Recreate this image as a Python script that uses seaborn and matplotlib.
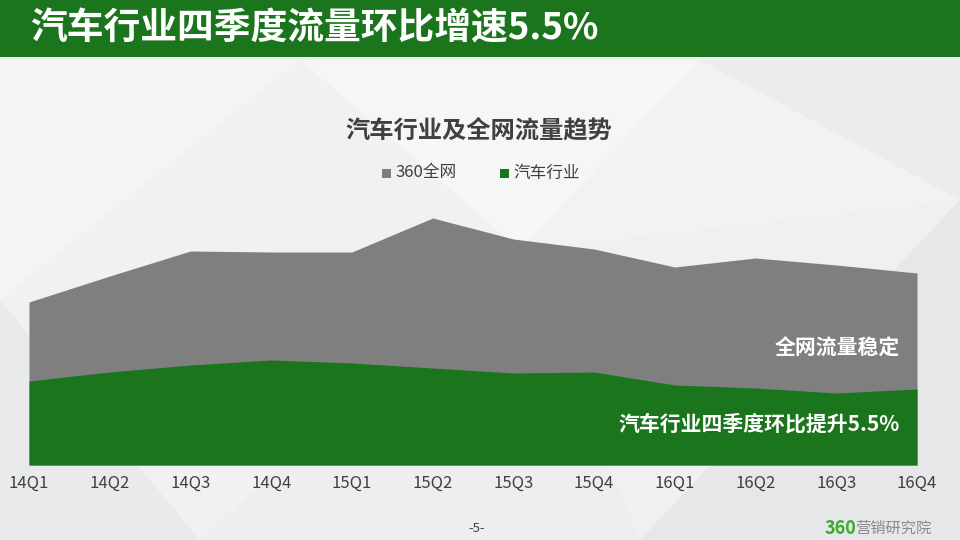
import matplotlib
matplotlib.use("Agg")
import matplotlib.pyplot as plt
from matplotlib.patches import Polygon, Rectangle
import seaborn as sns
import pandas as pd

# ---- data ----
quarters = ["14Q1", "14Q2", "14Q3", "14Q4", "15Q1", "15Q2",
            "15Q3", "15Q4", "16Q1", "16Q2", "16Q3", "16Q4"]
total_traffic = [163, 189, 214, 213, 213, 247, 226, 216, 198, 207, 200, 192]
auto_traffic = [84, 93, 100, 105, 102, 97, 92, 93, 80, 77, 72, 76]
series_names = ["360全网", "汽车行业"]

page_title = "汽车行业四季度流量环比增速5.5%"
chart_title = "汽车行业及全网流量趋势"
note_total = "全网流量稳定"
note_auto = "汽车行业四季度环比提升5.5%"

GREEN = "#1B751D"
GRAY = "#7F7F7F"

sns.set_theme(style="white")
plt.rcParams["font.family"] = ["Noto Sans CJK SC", "DejaVu Sans"]

df = pd.DataFrame({"q": range(len(quarters)), "label": quarters,
                   "total": total_traffic, "auto": auto_traffic})

fig = plt.figure(figsize=(9.6, 5.4), dpi=100)
fig.patch.set_facecolor("#EFF0F1")

W, H = 960, 540
def P(pts):
    return [(x / W, 1 - y / H) for x, y in pts]

bg_polys = [
    ([(0, 60), (300, 60), (0, 300)], "#F3F4F4"),
    ([(300, 60), (700, 60), (520, 250)], "#F5F6F6"),
    ([(700, 60), (960, 60), (960, 200)], "#EBECED"),
    ([(0, 300), (200, 540), (0, 540)], "#E9EAEB"),
    ([(200, 540), (520, 250), (640, 540)], "#EDEEEF"),
    ([(640, 540), (960, 200), (960, 540)], "#E6E7E8"),
    ([(520, 250), (700, 60), (960, 200)], "#F1F2F3"),
    ([(0, 300), (300, 60), (520, 250), (200, 540)], "#F0F1F2"),
]
for pts, c in bg_polys:
    fig.patches.append(Polygon(P(pts), closed=True, transform=fig.transFigure,
                               facecolor=c, edgecolor="none", zorder=-10))

# title bar
fig.patches.append(Rectangle((0, 1 - 57 / H), 1, 57 / H, transform=fig.transFigure,
                             facecolor=GREEN, edgecolor="none", zorder=-5))
fig.text(30 / W, 1 - 29 / H, page_title, color="white", fontsize=26.5,
         fontweight="bold", va="center", ha="left")

# chart title and legend
fig.text(479 / W, 1 - 130 / H, chart_title, color="#404040", fontsize=17.5,
         fontweight="bold", ha="center", va="center")
fig.patches.append(Rectangle((382 / W, 1 - 178 / H), 9 / W, 9 / H,
                             transform=fig.transFigure, facecolor=GRAY, edgecolor="none"))
fig.text(395 / W, 1 - 173 / H, series_names[0], color="#404040", fontsize=12,
         ha="left", va="center")
fig.patches.append(Rectangle((500 / W, 1 - 178 / H), 9 / W, 9 / H,
                             transform=fig.transFigure, facecolor=GREEN, edgecolor="none"))
fig.text(513 / W, 1 - 173 / H, series_names[1], color="#404040", fontsize=12,
         ha="left", va="center")

# main area chart
ax = fig.add_axes([29 / W, 75 / H, 888 / W, 250 / H], zorder=2)
ax.set_facecolor("none")
sns.lineplot(data=df, x="q", y="total", ax=ax, color=GRAY, linewidth=0)
sns.lineplot(data=df, x="q", y="auto", ax=ax, color=GREEN, linewidth=0)
ax.fill_between(df["q"], 0, df["total"], color=GRAY, linewidth=0, zorder=2)
ax.fill_between(df["q"], 0, df["auto"], color=GREEN, linewidth=0, zorder=3)
ax.set_xlim(0, len(quarters) - 1)
ax.set_ylim(0, 250)
ax.set_xticks(df["q"])
ax.set_xticklabels(quarters, color="#404040", fontsize=12)
ax.tick_params(axis="x", length=0, pad=7)
ax.set_yticks([])
ax.set_xlabel("")
ax.set_ylabel("")
for s in ax.spines.values():
    s.set_visible(False)

fig.text(900 / W, 1 - 348 / H, note_total, color="white", fontsize=15,
         fontweight="bold", ha="right", va="center", zorder=5)
fig.text(900 / W, 1 - 424 / H, note_auto, color="white", fontsize=15,
         fontweight="bold", ha="right", va="center", zorder=5)

# footer
fig.text(477 / W, 1 - 528 / H, "-5-", color="#404040", fontsize=9.5,
         ha="center", va="center")
fig.text(825 / W, 1 - 528 / H, "360", color="#3DAA2E", fontsize=13,
         fontweight="bold", ha="left", va="center")
fig.text(855 / W, 1 - 528 / H, "营销研究院", color="#8A8A8A", fontsize=11,
         ha="left", va="center")

fig.savefig("out.png", dpi=100)
